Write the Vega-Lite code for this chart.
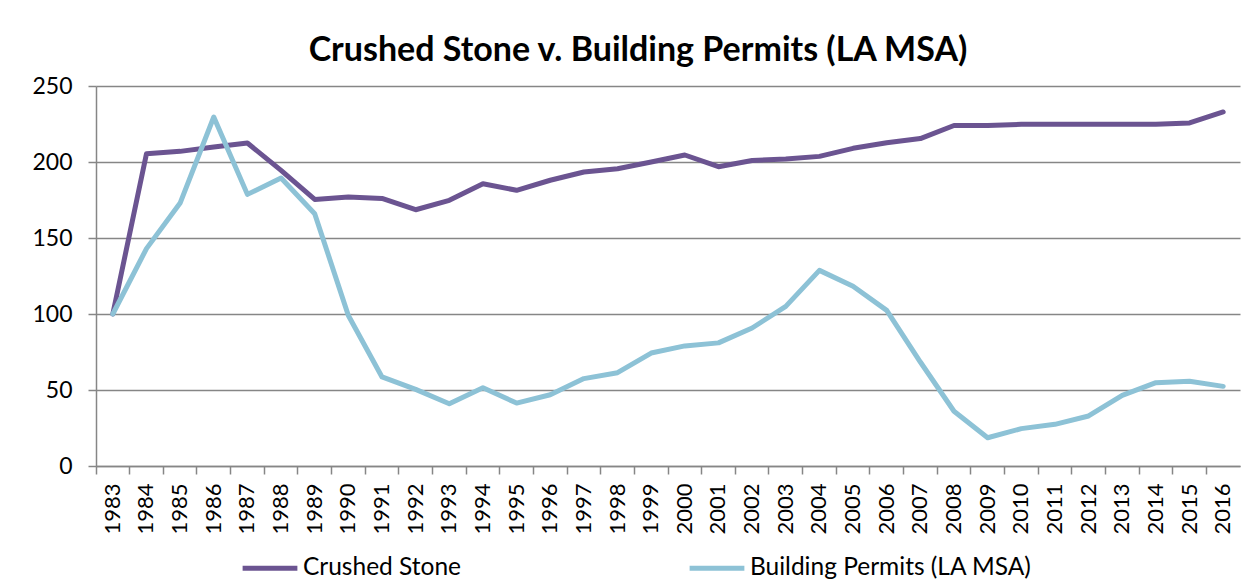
{
  "$schema": "https://vega.github.io/schema/vega-lite/v6.json",
  "autosize": {"type": "none"},
  "width": 1144,
  "height": 380,
  "padding": {"left": 96, "top": 86, "right": 15, "bottom": 114},
  "background": "white",
  "title": {
    "text": "Crushed Stone v. Building Permits (LA MSA)",
    "font": "Lato",
    "fontSize": 34,
    "fontWeight": "bold",
    "color": "#000000",
    "anchor": "middle",
    "dx": -30,
    "offset": 7
  },
  "data": {
    "values": [
      {"year": "1983", "series": "Crushed Stone", "value": 100},
      {"year": "1984", "series": "Crushed Stone", "value": 205.5},
      {"year": "1985", "series": "Crushed Stone", "value": 207},
      {"year": "1986", "series": "Crushed Stone", "value": 209.8},
      {"year": "1987", "series": "Crushed Stone", "value": 212.5},
      {"year": "1988", "series": "Crushed Stone", "value": 194.5},
      {"year": "1989", "series": "Crushed Stone", "value": 175.4},
      {"year": "1990", "series": "Crushed Stone", "value": 177},
      {"year": "1991", "series": "Crushed Stone", "value": 176},
      {"year": "1992", "series": "Crushed Stone", "value": 168.6},
      {"year": "1993", "series": "Crushed Stone", "value": 174.8},
      {"year": "1994", "series": "Crushed Stone", "value": 185.7},
      {"year": "1995", "series": "Crushed Stone", "value": 181.4},
      {"year": "1996", "series": "Crushed Stone", "value": 188},
      {"year": "1997", "series": "Crushed Stone", "value": 193.4},
      {"year": "1998", "series": "Crushed Stone", "value": 195.6},
      {"year": "1999", "series": "Crushed Stone", "value": 200},
      {"year": "2000", "series": "Crushed Stone", "value": 204.6},
      {"year": "2001", "series": "Crushed Stone", "value": 196.9},
      {"year": "2002", "series": "Crushed Stone", "value": 201},
      {"year": "2003", "series": "Crushed Stone", "value": 202},
      {"year": "2004", "series": "Crushed Stone", "value": 203.7},
      {"year": "2005", "series": "Crushed Stone", "value": 209},
      {"year": "2006", "series": "Crushed Stone", "value": 212.7},
      {"year": "2007", "series": "Crushed Stone", "value": 215.4},
      {"year": "2008", "series": "Crushed Stone", "value": 224},
      {"year": "2009", "series": "Crushed Stone", "value": 224},
      {"year": "2010", "series": "Crushed Stone", "value": 224.8},
      {"year": "2011", "series": "Crushed Stone", "value": 224.8},
      {"year": "2012", "series": "Crushed Stone", "value": 224.8},
      {"year": "2013", "series": "Crushed Stone", "value": 224.8},
      {"year": "2014", "series": "Crushed Stone", "value": 224.8},
      {"year": "2015", "series": "Crushed Stone", "value": 225.7},
      {"year": "2016", "series": "Crushed Stone", "value": 232.9},
      {"year": "1983", "series": "Building Permits (LA MSA)", "value": 100},
      {"year": "1984", "series": "Building Permits (LA MSA)", "value": 143},
      {"year": "1985", "series": "Building Permits (LA MSA)", "value": 173},
      {"year": "1986", "series": "Building Permits (LA MSA)", "value": 229.6},
      {"year": "1987", "series": "Building Permits (LA MSA)", "value": 178.7},
      {"year": "1988", "series": "Building Permits (LA MSA)", "value": 189.5},
      {"year": "1989", "series": "Building Permits (LA MSA)", "value": 166},
      {"year": "1990", "series": "Building Permits (LA MSA)", "value": 99},
      {"year": "1991", "series": "Building Permits (LA MSA)", "value": 58.6},
      {"year": "1992", "series": "Building Permits (LA MSA)", "value": 50.4},
      {"year": "1993", "series": "Building Permits (LA MSA)", "value": 41},
      {"year": "1994", "series": "Building Permits (LA MSA)", "value": 51.5},
      {"year": "1995", "series": "Building Permits (LA MSA)", "value": 41.4},
      {"year": "1996", "series": "Building Permits (LA MSA)", "value": 46.9},
      {"year": "1997", "series": "Building Permits (LA MSA)", "value": 57.5},
      {"year": "1998", "series": "Building Permits (LA MSA)", "value": 61.4},
      {"year": "1999", "series": "Building Permits (LA MSA)", "value": 74.3},
      {"year": "2000", "series": "Building Permits (LA MSA)", "value": 79},
      {"year": "2001", "series": "Building Permits (LA MSA)", "value": 81},
      {"year": "2002", "series": "Building Permits (LA MSA)", "value": 90.8},
      {"year": "2003", "series": "Building Permits (LA MSA)", "value": 105},
      {"year": "2004", "series": "Building Permits (LA MSA)", "value": 128.7},
      {"year": "2005", "series": "Building Permits (LA MSA)", "value": 118.2},
      {"year": "2006", "series": "Building Permits (LA MSA)", "value": 102.4},
      {"year": "2007", "series": "Building Permits (LA MSA)", "value": 68.4},
      {"year": "2008", "series": "Building Permits (LA MSA)", "value": 36},
      {"year": "2009", "series": "Building Permits (LA MSA)", "value": 18.6},
      {"year": "2010", "series": "Building Permits (LA MSA)", "value": 24.6},
      {"year": "2011", "series": "Building Permits (LA MSA)", "value": 27.4},
      {"year": "2012", "series": "Building Permits (LA MSA)", "value": 32.9},
      {"year": "2013", "series": "Building Permits (LA MSA)", "value": 46.5},
      {"year": "2014", "series": "Building Permits (LA MSA)", "value": 54.8},
      {"year": "2015", "series": "Building Permits (LA MSA)", "value": 55.7},
      {"year": "2016", "series": "Building Permits (LA MSA)", "value": 52.4}
    ]
  },
  "mark": {"type": "line", "strokeWidth": 5, "strokeCap": "round", "strokeJoin": "round"},
  "encoding": {
    "x": {
      "field": "year",
      "type": "ordinal",
      "title": null,
      "scale": {"type": "band", "paddingInner": 0, "paddingOuter": 0},
      "axis": {
        "labelAngle": -90,
        "labelAlign": "right",
        "labelBaseline": "middle",
        "labelFont": "Lato",
        "labelFontSize": 22,
        "labelColor": "#000000",
        "labelPadding": 9,
        "bandPosition": 0,
        "ticks": true,
        "tickSize": 8,
        "tickColor": "#868686",
        "tickWidth": 1.5,
        "domainColor": "#868686",
        "domainWidth": 1.5,
        "grid": false
      }
    },
    "y": {
      "field": "value",
      "type": "quantitative",
      "title": null,
      "scale": {"domain": [0, 250], "nice": false},
      "axis": {
        "values": [0, 50, 100, 150, 200, 250],
        "labelFont": "Lato",
        "labelFontSize": 23,
        "labelColor": "#000000",
        "labelPadding": 16,
        "tickSize": 8,
        "tickColor": "#868686",
        "tickWidth": 1.5,
        "domainColor": "#868686",
        "domainWidth": 1.5,
        "grid": true,
        "gridColor": "#868686",
        "gridWidth": 1.5
      }
    },
    "color": {
      "field": "series",
      "type": "nominal",
      "sort": ["Crushed Stone", "Building Permits (LA MSA)"],
      "scale": {
        "domain": ["Crushed Stone", "Building Permits (LA MSA)"],
        "range": ["#6B5491", "#8DC2D6"]
      },
      "legend": {
        "title": null,
        "orient": "none",
        "legendX": 144,
        "legendY": 452,
        "direction": "horizontal",
        "symbolType": "stroke",
        "symbolStrokeWidth": 5,
        "symbolSize": 3000,
        "labelFont": "Lato",
        "labelFontSize": 24.5,
        "labelLimit": 0,
        "labelColor": "#000000",
        "labelOffset": 3,
        "columnPadding": 217
      }
    }
  },
  "config": {
    "view": {"stroke": null}
  }
}
